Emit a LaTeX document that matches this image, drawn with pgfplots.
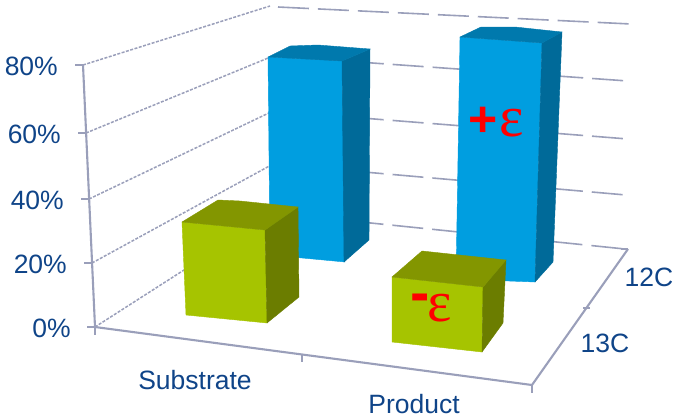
\documentclass[border=0pt]{standalone}
\usepackage{pgfplots}
\pgfplotsset{compat=1.18}
\usepackage{fontspec}
\setmainfont{Liberation Sans}
\newfontfamily\epsfont{Liberation Serif}
\definecolor{axisgrey}{HTML}{9A9FBA}
\definecolor{labelblue}{HTML}{0F4488}
\definecolor{bluefront}{HTML}{009EE0}
\definecolor{blueside}{HTML}{006A99}
\definecolor{bluetop}{HTML}{0079AD}
\definecolor{greenfront}{HTML}{A6C400}
\definecolor{greenside}{HTML}{6B7D00}
\definecolor{greentop}{HTML}{839600}
\newcommand{\labelfont}{\fontsize{26.5}{28}\selectfont}
\begin{document}
\begin{tikzpicture}
\begin{axis}[
  width=674pt, height=418pt, scale only axis,
  xmin=0, xmax=674, ymin=0, ymax=418, y dir=reverse,
  axis lines=none, clip=false,
  wallline/.style={axisgrey, line width=1.5pt, dash pattern=on 3pt off 1.5pt, forget plot},
  backline/.style={axisgrey, line width=1.6pt, dash pattern=on 31pt off 9pt, forget plot},
  axisline/.style={axisgrey, line width=2.1pt, forget plot},
]
% the page spans the whole plotting rectangle
\path (axis cs:0,0) rectangle (axis cs:674,418);
% side wall gridlines
\addplot[wallline] coordinates {(83,65) (270,6)};
\addplot[wallline] coordinates {(86,133) (273,56)};
\addplot[wallline] coordinates {(89,199) (273,111)};
\addplot[wallline] coordinates {(92,263) (273,164)};
\addplot[wallline] coordinates {(95,327) (273,213)};
% back wall gridlines
\addplot[backline] coordinates {(278,7) (631,24)};
\addplot[backline] coordinates {(273,56) (628,81)};
\addplot[backline] coordinates {(273,111) (628,139)};
\addplot[backline] coordinates {(273,164) (626,195)};
\addplot[backline] coordinates {(273,213) (625,249)};
% vertical axis with ticks
\addplot[axisline] coordinates {(83,65) (95,327)};
\addplot[axisline] coordinates {(75,65) (83,65)};
\addplot[axisline] coordinates {(78,133) (86,133)};
\addplot[axisline] coordinates {(81,199) (89,199)};
\addplot[axisline] coordinates {(84,263) (92,263)};
\addplot[axisline] coordinates {(87,327) (95,327)};
\addplot[axisline] coordinates {(95,327) (95,335)};
% floor edges with ticks
\addplot[axisline] coordinates {(95,327) (532,385)};
\addplot[axisline] coordinates {(302,354) (302,362)};
\addplot[axisline] coordinates {(532,385) (532,393)};
\addplot[axisline] coordinates {(532,385) (628,249)};
\addplot[axisline] coordinates {(583,308) (590,308)};
\addplot[axisline] coordinates {(621,249) (628,249)};
% 12C bar, Substrate
\addplot[fill=bluefront, draw=bluefront, forget plot] coordinates {(268,57) (342,61) (345,262) (270,255)} -- cycle;
\addplot[fill=blueside, draw=blueside, forget plot] coordinates {(342,61) (370,49) (369,240) (344,262)} -- cycle;
\addplot[fill=bluetop, draw=bluetop, forget plot] coordinates {(268,57) (290,46) (318,45) (370,49) (342,61)} -- cycle;
% 12C bar, Product
\addplot[fill=bluefront, draw=bluefront, forget plot] coordinates {(460,37) (542,43) (535,282) (456,279)} -- cycle;
\addplot[fill=blueside, draw=blueside, forget plot] coordinates {(542,43) (562,32) (553,262) (535,282)} -- cycle;
\addplot[fill=bluetop, draw=bluetop, forget plot] coordinates {(460,37) (481,27) (515,27) (562,32) (542,43)} -- cycle;
% 13C bar, Substrate
\addplot[fill=greenfront, draw=greenfront, forget plot] coordinates {(182,222) (265,230) (267,323) (186,315)} -- cycle;
\addplot[fill=greenside, draw=greenside, forget plot] coordinates {(265,230) (298,207) (299,297) (267,323)} -- cycle;
\addplot[fill=greentop, draw=greentop, forget plot] coordinates {(182,222) (218,200) (240,201) (298,207) (265,230)} -- cycle;
% 13C bar, Product
\addplot[fill=greenfront, draw=greenfront, forget plot] coordinates {(392,277) (483,287) (482,352) (392,342)} -- cycle;
\addplot[fill=greenside, draw=greenside, forget plot] coordinates {(483,287) (506,260) (503,323) (482,352)} -- cycle;
\addplot[fill=greentop, draw=greentop, forget plot] coordinates {(392,277) (422,251) (506,260) (483,287)} -- cycle;
% axis labels
\begin{scope}[every node/.style={text=labelblue, font=\labelfont, inner sep=0pt}]
\node[anchor=east] at (axis cs:58,66) {80\%};
\node[anchor=east] at (axis cs:61,134) {60\%};
\node[anchor=east] at (axis cs:64,200) {40\%};
\node[anchor=east] at (axis cs:67,264) {20\%};
\node[anchor=east] at (axis cs:71,328) {0\%};
\node at (axis cs:195,380) {Substrate};
\node at (axis cs:414,404) {Product};
\node at (axis cs:649,277) {12C};
\node at (axis cs:605,343) {13C};
\end{scope}
% isotope effect annotations
\node[text=red, font=\fontsize{50}{52}\selectfont\bfseries, inner sep=0pt] at (axis cs:483,122) {+};
\node[text=red, font=\fontsize{58}{60}\selectfont\epsfont, inner sep=0pt] at (axis cs:512,123) {ε};
\node[text=red, font=\fontsize{58}{60}\selectfont\bfseries, inner sep=0pt] at (axis cs:420,303) {-};
\node[text=red, font=\fontsize{58}{60}\selectfont\epsfont, inner sep=0pt] at (axis cs:440,308) {ε};
\end{axis}
\end{tikzpicture}
\end{document}
